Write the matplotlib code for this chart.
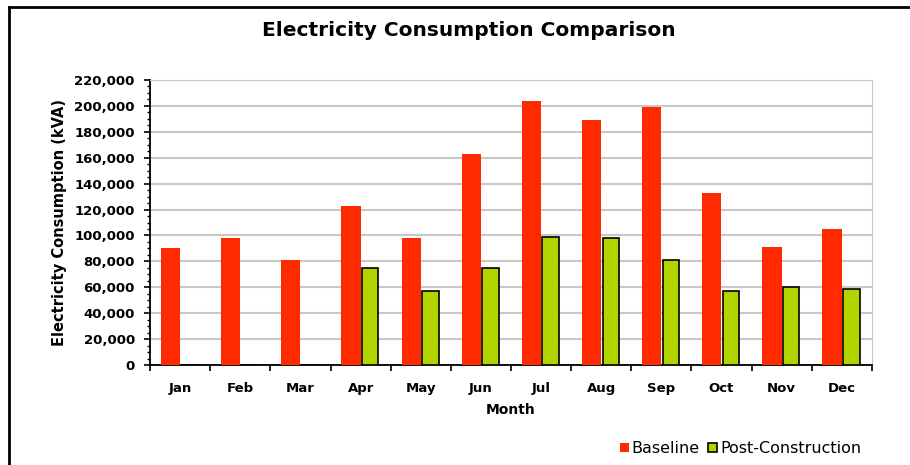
import numpy as np
import matplotlib
matplotlib.use("Agg")
import matplotlib.pyplot as plt
from matplotlib.ticker import MultipleLocator, FuncFormatter
from matplotlib.lines import Line2D

plt.rcParams['font.family'] = ['DejaVu Sans']

# data
months = ['Jan', 'Feb', 'Mar', 'Apr', 'May', 'Jun', 'Jul', 'Aug', 'Sep', 'Oct', 'Nov', 'Dec']
baseline = [90000, 98000, 81000, 123000, 98000, 163000, 204000, 189000, 199000, 133000, 91000, 105000]
post = [0, 0, 0, 75000, 57000, 75000, 99000, 98000, 81000, 57000, 60000, 59000]

fig = plt.figure(figsize=(9.1, 4.65), dpi=100)
ax = fig.add_axes([0.165, 0.215, 0.793, 0.613])

x = np.arange(len(months))
w = 0.32
ax.bar(x - w / 2, baseline, width=w, color='#ff2a00', label='Baseline', zorder=3)
ax.bar(x + w / 2, post, width=w * 0.85, color='#b4d400', edgecolor='black',
       linewidth=1.2, label='Post-Construction', zorder=3)

ax.set_xlim(-0.5, len(months) - 0.5)
ax.set_ylim(0, 220000)
ax.yaxis.set_major_locator(MultipleLocator(20000))
ax.yaxis.set_minor_locator(MultipleLocator(5000))
ax.yaxis.set_major_formatter(FuncFormatter(lambda v, p: f'{int(v):,}'))
ax.grid(axis='y', color='#c8c8c8', linewidth=1.5, zorder=0)

ax.set_xticks(x)
ax.set_xticklabels(months)
ax.set_xticks(np.arange(len(months) + 1) - 0.5, minor=True)
ax.tick_params(axis='x', which='major', length=0, pad=12, labelsize=9.5)
ax.tick_params(axis='x', which='minor', length=4, direction='out', width=1.2)
ax.tick_params(axis='y', which='major', length=4, width=1.2, labelsize=9.5, pad=7)
ax.tick_params(axis='y', which='minor', length=2, width=1)
for lab in ax.get_xticklabels() + ax.get_yticklabels():
    lab.set_fontweight('bold')

for s in ['top', 'right']:
    ax.spines[s].set_color('#c8c8c8')
for s in ['left', 'bottom']:
    ax.spines[s].set_color('black')
    ax.spines[s].set_linewidth(1.3)

ax.set_xlabel('Month', fontsize=10, fontweight='bold', labelpad=6)
ax.set_ylabel('Electricity Consumption (kVA)', fontsize=10.5, fontweight='bold', labelpad=5)
fig.suptitle('Electricity Consumption Comparison', x=0.515, y=0.955,
             fontsize=14.5, fontweight='bold')

ax.legend(loc='lower right', bbox_to_anchor=(1.005, -0.37), ncol=2, frameon=False,
          fontsize=11.5, handlelength=0.55, handleheight=0.55, handletextpad=0.2,
          columnspacing=0.5)

# outer frame (top and left edges visible in the reference)
fig.add_artist(Line2D([0.010, 0.010], [0.0, 0.985], transform=fig.transFigure,
                      color='black', linewidth=2))
fig.add_artist(Line2D([0.010, 1.0], [0.985, 0.985], transform=fig.transFigure,
                      color='black', linewidth=2))

fig.savefig('out.png', dpi=100)
